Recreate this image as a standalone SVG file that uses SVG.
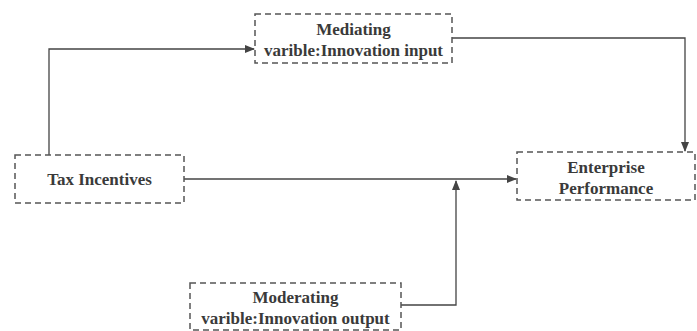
<svg xmlns="http://www.w3.org/2000/svg" width="697" height="331" viewBox="0 0 697 331">
<style>
.box{fill:#fff;stroke:#555;stroke-width:1.5;stroke-dasharray:6 4}
.t{font-family:'Liberation Serif','Times New Roman',serif;font-weight:bold;font-size:17px;fill:#3a3a3a;text-anchor:middle}
.c{fill:none;stroke:#444;stroke-width:1.3}
</style>
<defs><marker id="a" markerWidth="10" markerHeight="8" refX="9" refY="4" orient="auto" markerUnits="userSpaceOnUse"><path d="M0,0 L10,4 L0,8 z" fill="#444"/></marker></defs>
<g id="connectors">
<path class="c" d="M49,155 V49 H254" marker-end="url(#a)"/>
<path class="c" d="M452,38 H685 V151" marker-end="url(#a)"/>
<path class="c" d="M184,179 H516" marker-end="url(#a)"/>
<path class="c" d="M401,305 H456 V181" marker-end="url(#a)"/>
</g>
<g id="mediating"><rect class="box" x="255" y="14" width="197" height="49"/><text class="t" x="353.5" y="35">Mediating</text><text class="t" x="353.5" y="56">varible:Innovation input</text></g>
<g id="tax"><rect class="box" x="15" y="155" width="169" height="48"/><text class="t" x="99.5" y="185">Tax Incentives</text></g>
<g id="enterprise"><rect class="box" x="517" y="152" width="178" height="48"/><text class="t" x="606" y="173">Enterprise</text><text class="t" x="606" y="194">Performance</text></g>
<g id="moderating"><rect class="box" x="190" y="283" width="211" height="47"/><text class="t" x="295.5" y="303">Moderating</text><text class="t" x="295.5" y="324">varible:Innovation output</text></g>
</svg>
